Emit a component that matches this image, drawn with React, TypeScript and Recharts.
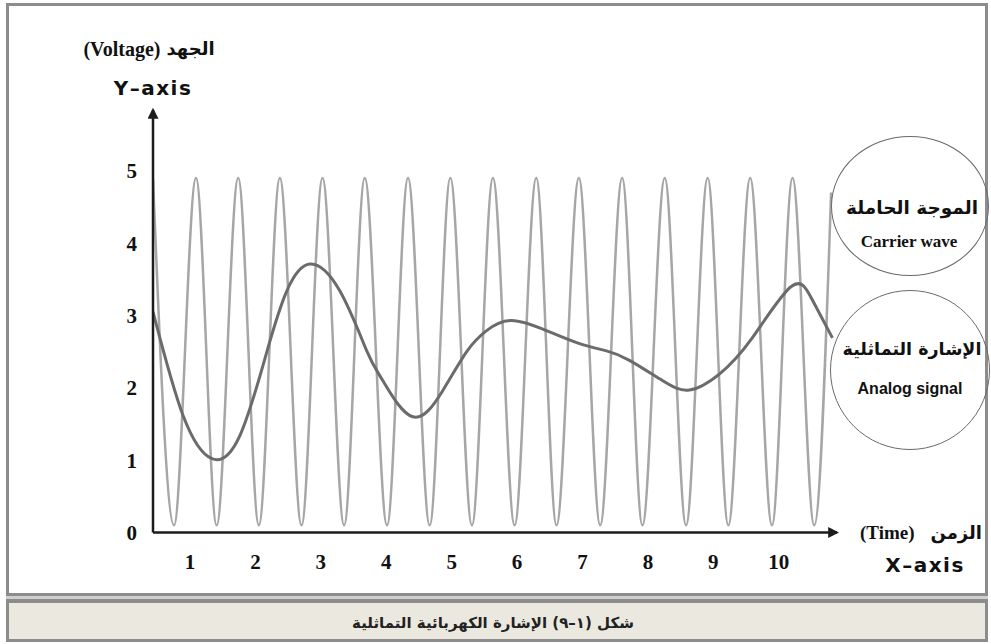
import { LineChart, Line, XAxis, YAxis } from 'recharts'

// carrier wave: peaks and troughs (time, volts)
const carrierTime = [
  0.435, 0.756, 1.092, 1.408, 1.737, 2.053, 2.374, 2.705, 3.026, 3.356, 3.672,
  4.012, 4.333, 4.664, 4.98, 5.31, 5.631, 5.962, 6.293, 6.603, 6.944, 7.27,
  7.606, 7.916, 8.257, 8.583, 8.913, 9.229, 9.563, 9.896, 10.21, 10.542, 10.8,
]
const carrierVolts = [
  4.9, 0.1, 4.9, 0.1, 4.9, 0.1, 4.9, 0.1, 4.9, 0.1, 4.9, 0.1, 4.9, 0.1, 4.9, 0.1,
  4.9, 0.1, 4.9, 0.1, 4.9, 0.1, 4.9, 0.1, 4.9, 0.1, 4.9, 0.1, 4.9, 0.1, 4.9, 0.1, 4.7,
]

// analog signal
const analogTime = [
  0.435, 0.893, 1.336, 1.763, 2.176, 2.481, 2.832, 3.29, 3.702, 3.947, 4.405,
  4.863, 5.23, 5.534, 5.916, 6.45, 6.954, 7.366, 7.718, 8.221, 8.634, 9.092,
  9.595, 10.19, 10.51, 10.82,
]
const analogVolts = [
  3.05, 1.62, 1.02, 1.34, 2.5, 3.34, 3.71, 3.34, 2.51, 2.1, 1.6,
  1.96, 2.5, 2.79, 2.93, 2.79, 2.61, 2.51, 2.38, 2.1, 1.97, 2.19,
  2.69, 3.4, 3.22, 2.69,
]

const xTicks = [1, 2, 3, 4, 5, 6, 7, 8, 9, 10]
const yTicks = [0, 1, 2, 3, 4, 5]

const carrierData = carrierTime.map((t, i) => ({ t, v: carrierVolts[i] }))
const analogData = analogTime.map((t, i) => ({ t, v: analogVolts[i] }))

const serif = '"Liberation Serif", "Times New Roman", serif'
const sans = '"DejaVu Sans", Arial, sans-serif'
const arabic = '"DejaVu Sans", "Noto Sans", sans-serif'

const tickStyle = { fill: '#111', fontSize: 21, fontWeight: 700, fontFamily: serif }
const axisLineStyle = { stroke: '#1c1c1c', strokeWidth: 2.5 }

function Label({ x, y, children, style }: { x: number; y: number; children: any; style?: any }) {
  return (
    <div
      style={{
        position: 'absolute',
        left: x,
        top: y,
        transform: 'translate(-50%, -50%)',
        whiteSpace: 'nowrap',
        lineHeight: 1,
        color: '#111',
        ...style,
      }}
    >
      {children}
    </div>
  )
}

function Bubble({ cx, cy, rx, ry }: { cx: number; cy: number; rx: number; ry: number }) {
  return (
    <div
      style={{
        position: 'absolute',
        left: cx - rx,
        top: cy - ry,
        width: rx * 2,
        height: ry * 2,
        borderRadius: '50%',
        border: '1.5px solid #6a6a6a',
        boxSizing: 'border-box',
      }}
    />
  )
}

export default function App() {
  return (
    <div style={{ position: 'absolute', left: 0, top: 0, width: 991, height: 644, background: '#fff', overflow: 'hidden' }}>
      {/* frame */}
      <div style={{ position: 'absolute', left: 6, top: 3, width: 982, height: 639, border: '3px solid #8c8c8c', boxSizing: 'border-box' }} />
      <div style={{ position: 'absolute', left: 6, top: 593, width: 982, height: 10, borderTop: '3px solid #8c8c8c', borderBottom: '4px solid #8c8c8c', background: '#cfcfcf', boxSizing: 'border-box' }} />
      <div style={{ position: 'absolute', left: 9, top: 603, width: 976, height: 36, background: '#ebe9df' }} />

      <div style={{ position: 'absolute', left: 0, top: 0 }}>
        <LineChart width={991} height={644} margin={{ top: 110, right: 154, bottom: 51.5, left: 0 }}>
          <defs>
            <marker id="axisArrow" viewBox="0 0 10 10" refX={8} refY={5} markerWidth={11} markerHeight={11} markerUnits="userSpaceOnUse" orient="auto-start-reverse">
              <path d="M0,0 L10,5 L0,10 z" fill="#1c1c1c" />
            </marker>
          </defs>
          <XAxis
            type="number"
            dataKey="t"
            domain={[0.435, 10.89]}
            ticks={xTicks}
            allowDataOverflow
            height={60}
            tickSize={0}
            tickMargin={22}
            tickLine={false}
            axisLine={{ ...axisLineStyle, markerEnd: 'url(#axisArrow)' }}
            tick={tickStyle}
          />
          <YAxis
            type="number"
            domain={[0, 5.84]}
            ticks={yTicks}
            allowDataOverflow
            width={153}
            tickSize={0}
            tickMargin={16}
            tickLine={false}
            axisLine={{ ...axisLineStyle, markerStart: 'url(#axisArrow)' }}
            tick={tickStyle}
          />
          <Line data={carrierData} dataKey="v" type="monotone" stroke="#a6a6a6" strokeWidth={2.5} dot={false} isAnimationActive={false} />
          <Line data={analogData} dataKey="v" type="natural" stroke="#6b6b6b" strokeWidth={3} dot={false} isAnimationActive={false} />
        </LineChart>
      </div>

      {/* axis titles */}
      <Label x={149} y={49} style={{ fontFamily: serif, fontWeight: 700, fontSize: 20, display: 'flex', gap: 6, alignItems: 'center' }}>
        <span>(Voltage)</span>
        <span style={{ fontFamily: arabic, fontSize: 18 }} dir="rtl">الجهد</span>
      </Label>
      <Label x={153} y={88} style={{ fontFamily: sans, fontWeight: 700, fontSize: 20, letterSpacing: 1.5 }}>Y–axis</Label>
      <Label x={921} y={532} style={{ fontFamily: serif, fontWeight: 700, fontSize: 19, display: 'flex', gap: 16, alignItems: 'center' }}>
        <span>(Time)</span>
        <span style={{ fontFamily: arabic, fontSize: 18 }} dir="rtl">الزمن</span>
      </Label>
      <Label x={925} y={565} style={{ fontFamily: sans, fontWeight: 700, fontSize: 20, letterSpacing: 1.5 }}>X–axis</Label>

      {/* legend bubbles */}
      <Bubble cx={910} cy={206} rx={79} ry={70} />
      <Bubble cx={910} cy={370} rx={80} ry={80} />
      <Label x={912} y={208} style={{ fontFamily: arabic, fontWeight: 700, fontSize: 18.5 }}>
        <span dir="rtl">الموجة الحاملة</span>
      </Label>
      <Label x={909} y={241} style={{ fontFamily: serif, fontWeight: 700, fontSize: 17 }}>Carrier wave</Label>
      <Label x={912} y={350} style={{ fontFamily: arabic, fontWeight: 700, fontSize: 17.5 }}>
        <span dir="rtl">الإشارة التماثلية</span>
      </Label>
      <Label x={910} y={389} style={{ fontFamily: '"Liberation Sans", Arial, sans-serif', fontWeight: 700, fontSize: 16 }}>Analog signal</Label>

      {/* caption */}
      <Label x={493} y={623} style={{ fontFamily: arabic, fontWeight: 700, fontSize: 15, color: '#222' }}>
        <span dir="rtl">
          شكل <span dir="ltr">(١–٩)</span>  الإشارة الكهربائية التماثلية
        </span>
      </Label>
    </div>
  )
}
